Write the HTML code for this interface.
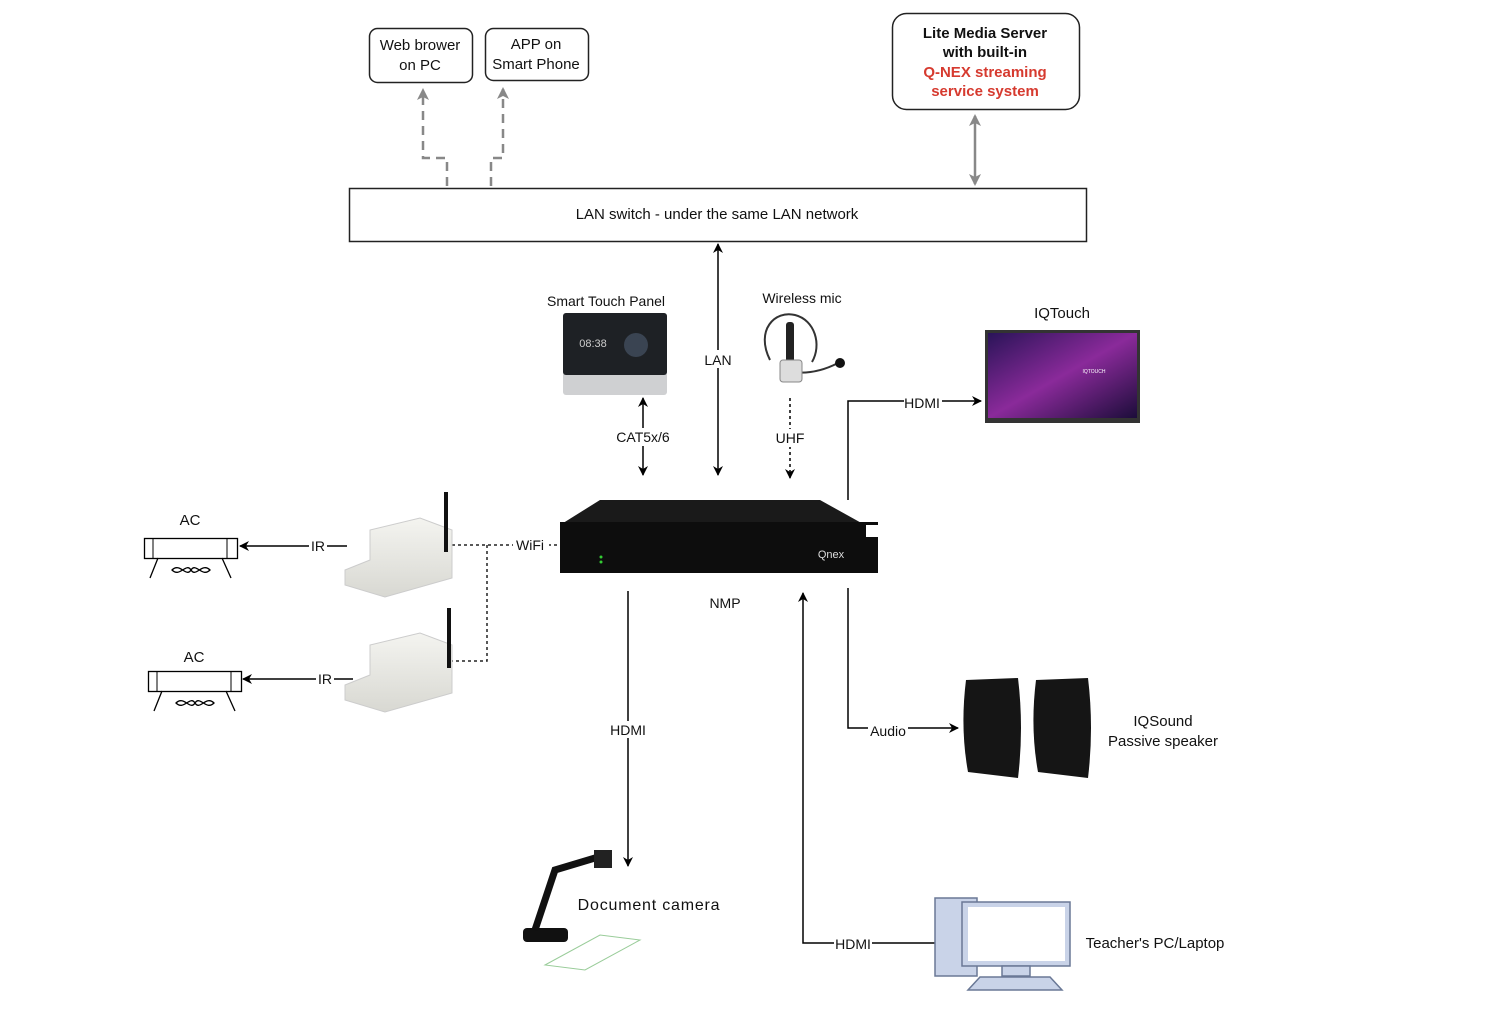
<!DOCTYPE html>
<html><head><meta charset="utf-8"><style>
html,body{margin:0;padding:0;background:#fff;}
svg{display:block;font-family:"Liberation Sans",sans-serif;}
</style></head><body>
<svg width="1494" height="1012" viewBox="0 0 1494 1012" xmlns="http://www.w3.org/2000/svg">
<defs>
<marker id="ab" markerWidth="10" markerHeight="10" refX="9" refY="5" orient="auto-start-reverse" markerUnits="userSpaceOnUse"><path d="M0,0 L10,5 L0,10 L3,5 Z" fill="#000"/></marker>
<marker id="ag" markerWidth="12" markerHeight="12" refX="10" refY="6" orient="auto-start-reverse" markerUnits="userSpaceOnUse"><path d="M0,0 L12,6 L0,12 L3,6 Z" fill="#888"/></marker>
<linearGradient id="scr" x1="0" y1="0" x2="1" y2="1"><stop offset="0" stop-color="#2a1458"/><stop offset="0.5" stop-color="#8a2a9a"/><stop offset="1" stop-color="#1c0d3a"/></linearGradient>
<linearGradient id="box" x1="0" y1="0" x2="0" y2="1"><stop offset="0" stop-color="#f4f4f0"/><stop offset="1" stop-color="#d8d8d2"/></linearGradient>
</defs>
<g font-size="15" text-anchor="middle" fill="#111">
<!-- top boxes -->
<rect x="369.5" y="28.5" width="103" height="54" rx="8" fill="#fff" stroke="#222" stroke-width="1.5"/>
<text x="420" y="50">Web brower</text><text x="420" y="70">on PC</text>
<rect x="485.5" y="28.5" width="103" height="52" rx="8" fill="#fff" stroke="#222" stroke-width="1.5"/>
<text x="536" y="49">APP on</text><text x="536" y="69">Smart Phone</text>
<rect x="892.5" y="13.5" width="187" height="96" rx="14" fill="#fff" stroke="#222" stroke-width="1.5"/>
<g font-weight="bold"><text x="985" y="38">Lite Media Server</text><text x="985" y="57">with built-in</text>
<text x="985" y="77" fill="#d63a2f">Q-NEX streaming</text><text x="985" y="96" fill="#d63a2f">service system</text></g>
<!-- gray dashed -->
<g fill="none" stroke="#888" stroke-width="2.5" stroke-dasharray="9,6">
<path d="M447,186 V158 H423 V90" marker-end="url(#ag)"/>
<path d="M491,186 V158 H503 V89" marker-end="url(#ag)"/>
</g>
<line x1="975" y1="116" x2="975" y2="184" stroke="#888" stroke-width="2.5" marker-start="url(#ag)" marker-end="url(#ag)"/>
<!-- LAN switch -->
<rect x="349.5" y="188.5" width="737" height="53" fill="#fff" stroke="#222" stroke-width="1.5"/>
<text x="717" y="219">LAN switch - under the same LAN network</text>
<!-- LAN -->
<line x1="718" y1="244" x2="718" y2="475" stroke="#000" stroke-width="1.5" marker-start="url(#ab)" marker-end="url(#ab)"/>
<rect x="702" y="350" width="32" height="18" fill="#fff"/><text x="718" y="365" font-size="14">LAN</text>
<!-- Smart touch panel -->
<text x="606" y="306" font-size="14">Smart Touch Panel</text>
<rect x="563" y="313" width="104" height="82" rx="3" fill="#cfd0d2"/>
<rect x="563" y="313" width="104" height="62" rx="3" fill="#1e2125"/>
<text x="593" y="347" font-size="11" fill="#ccc">08:38</text>
<circle cx="636" cy="345" r="12" fill="#3a4452"/>
<line x1="643" y1="398" x2="643" y2="475" stroke="#000" stroke-width="1.5" marker-start="url(#ab)" marker-end="url(#ab)"/>
<rect x="612" y="428" width="62" height="18" fill="#fff"/><text x="643" y="442" font-size="14">CAT5x/6</text>
<!-- mic -->
<text x="802" y="303" font-size="14">Wireless mic</text>
<path d="M770,360 C755,330 775,310 795,315 C815,320 822,345 812,362" fill="none" stroke="#333" stroke-width="2"/>
<rect x="786" y="322" width="8" height="60" rx="3" fill="#222"/>
<path d="M792,372 Q815,375 838,363" fill="none" stroke="#333" stroke-width="2"/>
<ellipse cx="840" cy="363" rx="5" ry="5" fill="#111"/>
<rect x="780" y="360" width="22" height="22" rx="3" fill="#ddd" stroke="#888"/>
<line x1="790" y1="398" x2="790" y2="478" stroke="#000" stroke-width="1.5" stroke-dasharray="3,3" marker-end="url(#ab)"/>
<rect x="773" y="429" width="34" height="18" fill="#fff"/><text x="790" y="443" font-size="14">UHF</text>
<!-- IQTouch -->
<text x="1062" y="318">IQTouch</text>
<rect x="985" y="330" width="155" height="93" fill="#333"/>
<rect x="988" y="333" width="149" height="85" fill="url(#scr)"/>
<text x="1094" y="373" font-size="5" fill="#fff">IQTOUCH</text>
<path d="M848,500 V401 H981" fill="none" stroke="#000" stroke-width="1.5" marker-end="url(#ab)"/>
<rect x="904" y="394" width="38" height="17" fill="#fff"/><text x="922" y="408" font-size="14">HDMI</text>
<!-- NMP -->
<path d="M600,500 L820,500 L865,525 L560,525 Z" fill="#1a1a1a"/>
<rect x="560" y="522" width="318" height="51" fill="#0d0d0d"/>
<rect x="866" y="525" width="12" height="12" fill="#fff"/>
<text x="831" y="558" font-size="11" fill="#ddd">Qnex</text>
<circle cx="601" cy="557" r="1.5" fill="#3c3"/><circle cx="601" cy="562" r="1.5" fill="#3c3"/>
<text x="725" y="608" font-size="14">NMP</text>
<!-- WiFi -->
<g stroke="#222" stroke-width="1.5" stroke-dasharray="3,3" fill="none">
<path d="M452,545 H557"/><path d="M487,545 V661 H452"/>
</g>
<rect x="513" y="536" width="36" height="17" fill="#fff"/><text x="530" y="550" font-size="14">WiFi</text>
<!-- wifi boxes -->
<g>
<path d="M345,570 L370,560 L370,530 L420,518 L452,530 L452,578 L385,597 L345,585 Z" fill="url(#box)" stroke="#ccc"/>
<line x1="446" y1="492" x2="446" y2="552" stroke="#111" stroke-width="4"/>
<path d="M345,685 L370,675 L370,645 L420,633 L452,645 L452,693 L385,712 L345,700 Z" fill="url(#box)" stroke="#ccc"/>
<line x1="449" y1="608" x2="449" y2="668" stroke="#111" stroke-width="4"/>
</g>
<!-- AC units -->
<text x="190" y="525">AC</text>
<rect x="144.5" y="538.5" width="93" height="20" fill="#fff" stroke="#000" stroke-width="1.3"/>
<line x1="153" y1="538" x2="153" y2="558" stroke="#000"/><line x1="227" y1="538" x2="227" y2="558" stroke="#000"/>
<path d="M158,558 L150,578 M222,558 L231,578" stroke="#000" stroke-width="1.3"/>
<path d="M172,570 C180,562 186,578 191,570 C196,562 202,578 210,570 C202,562 196,578 191,570 C186,562 180,578 172,570Z" fill="none" stroke="#000" stroke-width="1.3"/>
<line x1="347" y1="546" x2="240" y2="546" stroke="#000" stroke-width="1.5" marker-end="url(#ab)"/>
<rect x="309" y="538" width="18" height="17" fill="#fff"/><text x="318" y="551" font-size="14">IR</text>
<text x="194" y="662">AC</text>
<rect x="148.5" y="671.5" width="93" height="20" fill="#fff" stroke="#000" stroke-width="1.3"/>
<line x1="157" y1="671" x2="157" y2="691" stroke="#000"/><line x1="231" y1="671" x2="231" y2="691" stroke="#000"/>
<path d="M162,691 L154,711 M226,691 L235,711" stroke="#000" stroke-width="1.3"/>
<path d="M176,703 C184,695 190,711 195,703 C200,695 206,711 214,703 C206,695 200,711 195,703 C190,695 184,711 176,703Z" fill="none" stroke="#000" stroke-width="1.3"/>
<line x1="353" y1="679" x2="243" y2="679" stroke="#000" stroke-width="1.5" marker-end="url(#ab)"/>
<rect x="316" y="671" width="18" height="17" fill="#fff"/><text x="325" y="684" font-size="14">IR</text>
<!-- HDMI down to doc camera -->
<line x1="628" y1="591" x2="628" y2="866" stroke="#000" stroke-width="1.5" marker-end="url(#ab)"/>
<rect x="608" y="721" width="40" height="17" fill="#fff"/><text x="628" y="735" font-size="14">HDMI</text>
<path d="M545,965 L600,935 L640,940 L585,970 Z" fill="none" stroke="#9c9" stroke-width="1"/>
<rect x="523" y="928" width="45" height="14" rx="4" fill="#111"/>
<path d="M535,930 L555,870 L595,858" fill="none" stroke="#111" stroke-width="7"/>
<rect x="594" y="850" width="18" height="18" fill="#222"/>
<text x="649" y="910" font-size="16" letter-spacing="0.8">Document camera</text>
<!-- Audio -->
<path d="M848,588 V728 H958" fill="none" stroke="#000" stroke-width="1.5" marker-end="url(#ab)"/>
<rect x="868" y="722" width="40" height="17" fill="#fff"/><text x="888" y="736" font-size="14">Audio</text>
<path d="M966,680 L1018,678 Q1024,728 1018,778 L968,772 Q960,728 966,680Z" fill="#151515"/>
<path d="M1036,680 L1088,678 Q1094,728 1088,778 L1038,772 Q1030,728 1036,680Z" fill="#151515"/>
<text x="1163" y="726">IQSound</text><text x="1163" y="746">Passive speaker</text>
<!-- Teacher PC -->
<path d="M935,943 H803 V593" fill="none" stroke="#000" stroke-width="1.5" marker-end="url(#ab)"/>
<rect x="834" y="935" width="38" height="17" fill="#fff"/><text x="853" y="949" font-size="14">HDMI</text>
<g fill="#c9d3e8" stroke="#6a7896" stroke-width="1.5">
<rect x="935" y="898" width="42" height="78"/>
<rect x="962" y="902" width="108" height="64"/>
<rect x="1002" y="966" width="28" height="10"/>
<path d="M980,977 H1050 L1062,990 H968 Z"/>
</g>
<rect x="968" y="907" width="97" height="54" fill="#fff" stroke="none"/>
<text x="1155" y="948">Teacher's PC/Laptop</text>
</g>
</svg>
</body></html>
